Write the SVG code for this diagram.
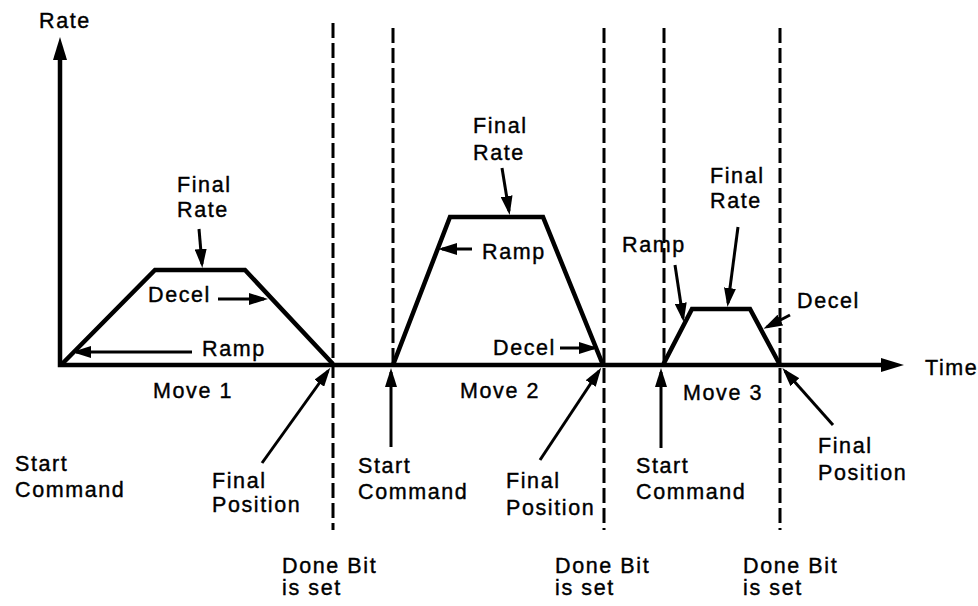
<svg xmlns="http://www.w3.org/2000/svg" width="978" height="606" viewBox="0 0 978 606">
  <style>
    text { font-family: "Liberation Sans", Arial, Helvetica, sans-serif; font-size: 21.5px; letter-spacing: 1.6px; fill: #000; stroke: #000; stroke-width: 0.4px; }
    .axis { fill: none; stroke: #000; stroke-width: 4.5; stroke-linejoin: miter; }
    .profile { fill: none; stroke: #000; stroke-width: 4.5; stroke-linejoin: miter; }
    .marker-line { stroke: #000; stroke-width: 3; stroke-dasharray: 15 5; }
    .ptr { stroke: #000; stroke-width: 3; fill: none; marker-end: url(#head); }
  </style>
  <defs>
    <marker id="head" viewBox="0 0 19 12" refX="15" refY="6" markerWidth="19" markerHeight="12" markerUnits="userSpaceOnUse" orient="auto">
      <path d="M0,0 L19,6 L0,12 Z" fill="#000"/>
    </marker>
  </defs>

  <rect width="978" height="606" fill="#fff"/>

  <!-- rate / time axes -->
  <g id="axes">
    <path class="axis" d="M60,56 V365 H884"/>
    <polygon points="60,37 53,60 67,60" fill="#000"/>
    <polygon points="904,365 881,358 881,372" fill="#000"/>
    <text x="39" y="28">Rate</text>
    <text x="925" y="375">Time</text>
  </g>

  <!-- done-bit / start markers -->
  <g id="timing-lines">
    <line class="marker-line" x1="333" y1="23" x2="333" y2="530"/>
    <line class="marker-line" x1="393" y1="28" x2="393" y2="363"/>
    <line class="marker-line" x1="604" y1="28" x2="604" y2="530"/>
    <line class="marker-line" x1="664" y1="28" x2="664" y2="363"/>
    <line class="marker-line" x1="780" y1="28" x2="780" y2="530"/>
  </g>

  <!-- move 1 -->
  <g id="move-1">
    <polyline class="profile" points="62,364 155,270 245,270 333,364"/>
    <text x="177" y="192">Final</text>
    <text x="177" y="217">Rate</text>
    <text x="148" y="302">Decel</text>
    <text x="202" y="356">Ramp</text>
    <text x="153" y="398">Move 1</text>
    <text x="15" y="471">Start</text>
    <text x="15" y="497">Command</text>
    <text x="212" y="488">Final</text>
    <text x="212" y="512">Position</text>
    <text x="282" y="573">Done Bit</text>
    <text x="282" y="595">is set</text>
  </g>

  <!-- move 2 -->
  <g id="move-2">
    <polyline class="profile" points="393,365 450,217 543,217 603,365"/>
    <text x="473" y="133">Final</text>
    <text x="473" y="160">Rate</text>
    <text x="482" y="259">Ramp</text>
    <text x="493" y="355">Decel</text>
    <text x="460" y="398">Move 2</text>
    <text x="358" y="473">Start</text>
    <text x="358" y="499">Command</text>
    <text x="506" y="488">Final</text>
    <text x="506" y="515">Position</text>
    <text x="555" y="573">Done Bit</text>
    <text x="555" y="595">is set</text>
  </g>

  <!-- move 3 -->
  <g id="move-3">
    <polyline class="profile" points="663,365 692,309 750,309 780,365"/>
    <text x="710" y="183">Final</text>
    <text x="710" y="208">Rate</text>
    <text x="622" y="252">Ramp</text>
    <text x="797" y="308">Decel</text>
    <text x="683" y="400">Move 3</text>
    <text x="636" y="473">Start</text>
    <text x="636" y="499">Command</text>
    <text x="818" y="453">Final</text>
    <text x="818" y="480">Position</text>
    <text x="743" y="573">Done Bit</text>
    <text x="743" y="595">is set</text>
  </g>

  <!-- label pointers -->
  <g id="connectors">
    <line class="ptr" x1="199" y1="229" x2="202" y2="264"/>
    <line class="ptr" x1="218" y1="299" x2="264" y2="299"/>
    <line class="ptr" x1="192" y1="352" x2="76" y2="352"/>
    <line class="ptr" x1="262" y1="463" x2="328" y2="371"/>

    <line class="ptr" x1="502" y1="168" x2="509" y2="211"/>
    <line class="ptr" x1="472" y1="249" x2="442" y2="249"/>
    <line class="ptr" x1="560" y1="348" x2="594" y2="348"/>
    <line class="ptr" x1="391" y1="447" x2="391" y2="372"/>
    <line class="ptr" x1="540" y1="460" x2="599" y2="371"/>

    <line class="ptr" x1="738" y1="227" x2="728" y2="303"/>
    <line class="ptr" x1="675" y1="265" x2="683" y2="318"/>
    <line class="ptr" x1="790" y1="315" x2="767" y2="327"/>
    <line class="ptr" x1="661" y1="448" x2="661" y2="372"/>
    <line class="ptr" x1="833" y1="425" x2="785" y2="371"/>
  </g>
</svg>
